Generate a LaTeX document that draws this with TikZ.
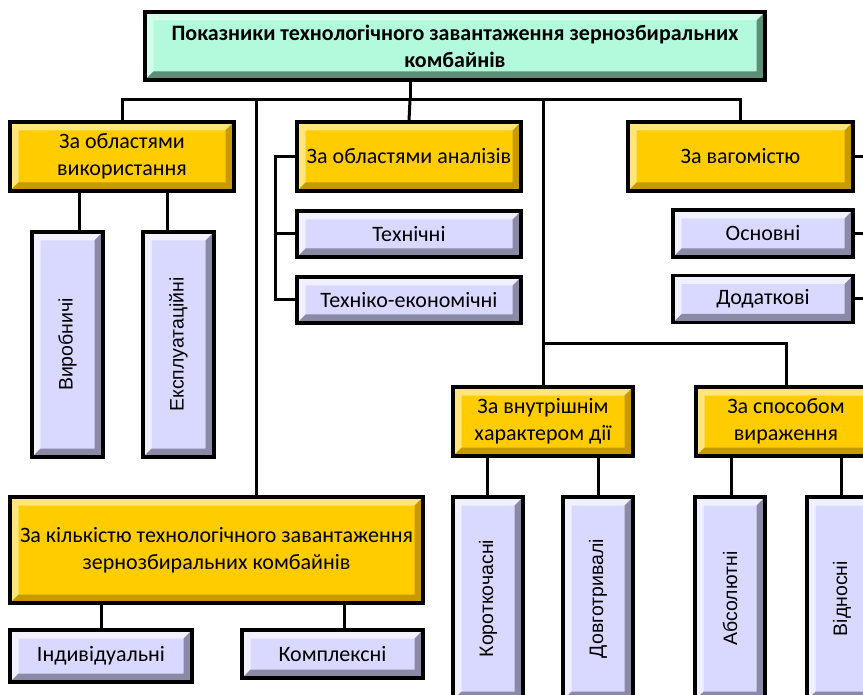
\documentclass[tikz,border=0pt]{standalone}
\usepackage{fontspec}
\setmainfont{Carlito}
\newfontfamily\vertfont{Liberation Sans}
\usetikzlibrary{calc}

\definecolor{goldface}{HTML}{FFCC00}
\definecolor{goldlt}{HTML}{FFE57A}
\definecolor{golddk}{HTML}{C99A00}
\definecolor{lilacface}{HTML}{D9D9FF}
\definecolor{lilaclt}{HTML}{F0F0FF}
\definecolor{lilacdk}{HTML}{8A8AA6}
\definecolor{mintface}{HTML}{B3FADC}
\definecolor{mintlt}{HTML}{D2FFEC}
\definecolor{mintdk}{HTML}{5F8E76}

% bevelled frame inside a box: light top/left, dark bottom/right
\newcommand\bevelframe[2]{%
  \path (path picture bounding box.north west) coordinate (pA)
        (path picture bounding box.south east) coordinate (pC);
  \fill[#1] (pA) -- (pA -| pC) -- ($(pA -| pC)+(-8.5pt,-8.5pt)$) -- ($(pA)+(8.5pt,-8.5pt)$)
            -- ($(pA |- pC)+(8.5pt,8.5pt)$) -- (pA |- pC) -- cycle;
  \fill[#2] (pC) -- (pC |- pA) -- ($(pC |- pA)+(-8.5pt,-8.5pt)$) -- ($(pC)+(-8.5pt,8.5pt)$)
            -- ($(pA |- pC)+(8.5pt,8.5pt)$) -- (pA |- pC) -- cycle;
}

\tikzset{
  conn/.style={line width=3pt},
  box/.style={draw=black, line width=3.2pt, inner sep=0pt, align=center,
    font=\fontsize{22}{27}\selectfont},
  goldbox/.style={box, fill=goldface, path picture={\bevelframe{goldlt}{golddk}}},
  lilacbox/.style={box, fill=lilacface, path picture={\bevelframe{lilaclt}{lilacdk}}},
  lilacvert/.style={lilacbox, font=\vertfont\fontsize{19.5}{23}\selectfont},
  titlebox/.style={box, fill=mintface, font=\bfseries\fontsize{22}{27}\selectfont,
    path picture={\bevelframe{mintlt}{mintdk}}},
}

\begin{document}
\begin{tikzpicture}[x=1pt,y=-1pt]
\useasboundingbox (0,0) rectangle (863,695);

% head
\node[titlebox, minimum width=620, minimum height=68] (title) at (455,46)
  {Показники технологічного завантаження зернозбиральних\\комбайнів};

% first row
\node[goldbox, minimum width=224, minimum height=69] (use) at (122,156.5)
  {За областями\\використання};
\node[goldbox, minimum width=224, minimum height=69] (anal) at (409,156.5)
  {За областями аналізів};
\node[goldbox, minimum width=225, minimum height=69] (vaha) at (740.5,156.5)
  {За вагомістю};

\node[lilacvert, minimum width=71, minimum height=225] (vyrob) at (67.5,344.5)
  {\rotatebox{90}{Виробничі}};
\node[lilacvert, minimum width=71, minimum height=225] (ekspl) at (178.5,344.5)
  {\rotatebox{90}{Експлуатаційні}};

\node[lilacbox, minimum width=224, minimum height=46] (tekh) at (409,234)
  {Технічні};
\node[lilacbox, minimum width=224, minimum height=46] (tekhek) at (409,300)
  {Техніко-економічні};

\node[lilacbox, minimum width=180, minimum height=47] (osn) at (763,233.5)
  {Основні};
\node[lilacbox, minimum width=180, minimum height=47] (dod) at (763,299)
  {Додаткові};

% lower right
\node[goldbox, minimum width=180, minimum height=69] (vnutr) at (543,421.5)
  {За внутрішнім\\характером дії};
\node[goldbox, minimum width=180, minimum height=69] (sposib) at (786,421.5)
  {За способом\\вираження};

\node[lilacvert, minimum width=70, minimum height=203] (korot) at (488,598.5)
  {\rotatebox{90}{Короткочасні}};
\node[lilacvert, minimum width=70, minimum height=203] (dovho) at (598,598.5)
  {\rotatebox{90}{Довготривалі}};
\node[lilacvert, minimum width=70, minimum height=203] (abs) at (730,598.5)
  {\rotatebox{90}{Абсолютні}};
\node[lilacvert, minimum width=70, minimum height=203] (vidn) at (842,598.5)
  {\rotatebox{90}{Відносні}};

% lower left
\node[goldbox, minimum width=413, minimum height=106] (kilk) at (216.5,550)
  {За кількістю технологічного завантаження\\зернозбиральних комбайнів};
\node[lilacbox, minimum width=182, minimum height=52] (ind) at (101,656)
  {Індивідуальні};
\node[lilacbox, minimum width=181, minimum height=48] (kompl) at (332.5,654)
  {Комплексні};

% connectors
\coordinate (bus) at (410,100);
\draw[conn] ([xshift=-45]title.south) -- (bus);
\draw[conn] (use.north) |- (bus) -| (vaha.north);
\draw[conn] (bus) -- (anal.north);
\draw[conn] ([xshift=39.5]kilk.north |- bus) -- ([xshift=39.5]kilk.north);
\draw[conn] (vnutr.north |- bus) -- (vnutr.north);
\draw[conn] (vnutr.north |- 0,344) -| (sposib.north);

\draw[conn] ([xshift=11.5]vyrob.north |- use.south) -- ([xshift=11.5]vyrob.north);
\draw[conn] ([xshift=-11.5]ekspl.north |- use.south) -- ([xshift=-11.5]ekspl.north);

\draw[conn] (anal.west) -- ++(-20,0) |- (tekhek.west);
\draw[conn] (tekh.west) -- ++(-20,0);

\draw[conn] (vaha.east) -- ++(14,0) |- (dod.east);
\draw[conn] (osn.east) -- ++(14,0);

\draw[conn] ([xshift=-1]korot.north |- vnutr.south) -- ([xshift=-1]korot.north);
\draw[conn] (dovho.north |- vnutr.south) -- (dovho.north);
\draw[conn] ([xshift=1]abs.north |- sposib.south) -- ([xshift=1]abs.north);
\draw[conn] ([xshift=-1]vidn.north |- sposib.south) -- ([xshift=-1]vidn.north);

\draw[conn] (ind.north |- kilk.south) -- (ind.north);
\draw[conn] ([xshift=11.5]kompl.north |- kilk.south) -- ([xshift=11.5]kompl.north);
\end{tikzpicture}
\end{document}
